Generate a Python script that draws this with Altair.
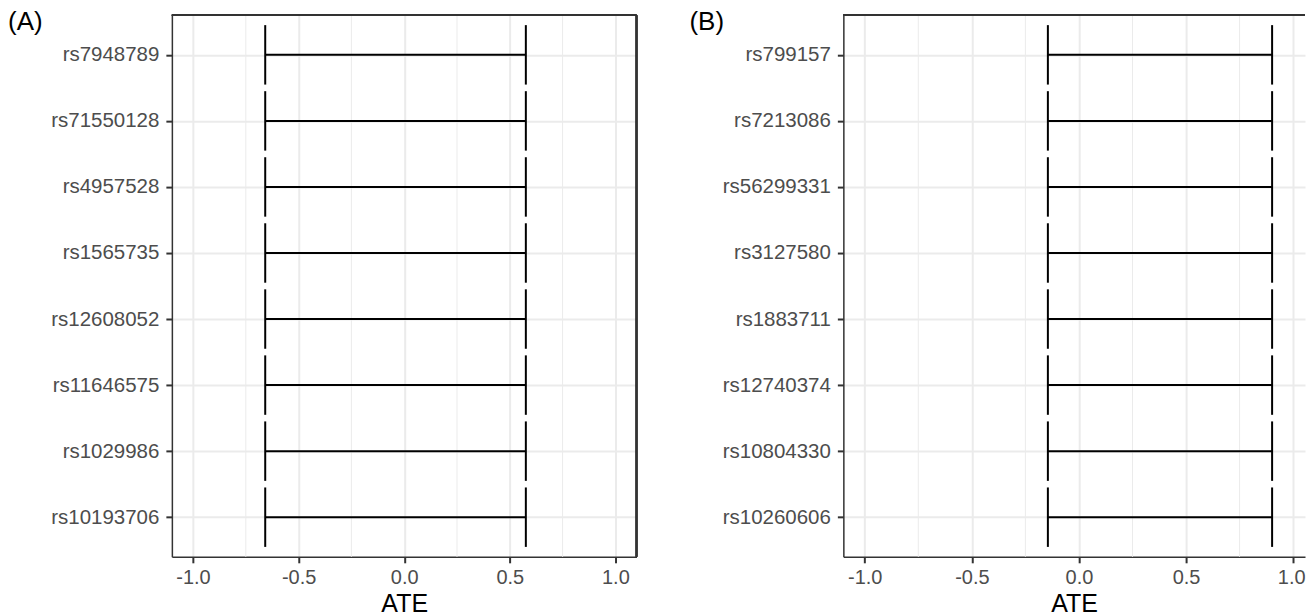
import altair as alt
import pandas as pd

# ---- data ----
snps_a = ["rs7948789", "rs71550128", "rs4957528", "rs1565735",
          "rs12608052", "rs11646575", "rs1029986", "rs10193706"]
lower_a = [-0.658, -0.658, -0.658, -0.658, -0.658, -0.658, -0.658, -0.658]
upper_a = [0.576, 0.576, 0.576, 0.576, 0.576, 0.576, 0.576, 0.576]

snps_b = ["rs799157", "rs7213086", "rs56299331", "rs3127580",
          "rs1883711", "rs12740374", "rs10804330", "rs10260606"]
lower_b = [-0.145, -0.145, -0.145, -0.145, -0.145, -0.145, -0.145, -0.145]
upper_b = [0.902, 0.902, 0.902, 0.902, 0.902, 0.902, 0.902, 0.902]

x_major = [-1.0, -0.5, 0.0, 0.5, 1.0]
x_minor = [-0.75, -0.25, 0.25, 0.75]

FONT = "Liberation Sans"
GRID = "#ebebeb"
DARK = "#333333"
H = 542


def panel(snps, lo, hi, tag, width, xmax, full_border, dx_tag, flush):
    n = len(snps)
    rows = list(range(1, n + 1))
    df = pd.DataFrame({"snp": snps, "row": rows, "lower": lo, "upper": hi})
    df["cap_lo"] = df["row"] - 0.45
    df["cap_hi"] = df["row"] + 0.45
    minor = pd.DataFrame({"v": x_minor})
    tagdf = pd.DataFrame({"tag": [tag]})

    names = ",".join("'" + s + "'" for s in snps)
    label_expr = "[" + names + "][datum.value - 1]"

    xscale = alt.Scale(domain=[-1.1, xmax], nice=False, zero=False)
    yscale = alt.Scale(domain=[0.4, n + 0.6], nice=False, zero=False, reverse=True)

    xaxis_kw = dict(
        values=x_major, grid=True, gridColor=GRID, gridWidth=2,
        domain=True, domainColor=DARK, domainWidth=1.5,
        ticks=True, tickColor=DARK, tickSize=6, tickWidth=2,
        labelFont=FONT, labelFontSize=20, labelColor="#4d4d4d", labelPadding=5,
        labelExpr="datum.value < 0 ? '-' + format(abs(datum.value), '.1f') : format(datum.value, '.1f')",
        title="ATE", titleFont=FONT, titleFontSize=25, titleFontWeight="normal",
        titleColor="black", titlePadding=4,
    )
    if flush:
        xaxis_kw.update(labelFlush=15, labelFlushOffset=12)
    else:
        xaxis_kw.update(labelFlush=False)
    xaxis = alt.Axis(**xaxis_kw)
    yaxis = alt.Axis(
        values=rows, grid=True, gridColor=GRID, gridWidth=2,
        domain=True, domainColor=DARK, domainWidth=1.5,
        ticks=True, tickColor=DARK, tickSize=6, tickWidth=2,
        labelFont=FONT, labelFontSize=20.5, labelColor="#4d4d4d", labelPadding=7,
        labelExpr=label_expr, title=None,
    )

    minor_rules = alt.Chart(minor).mark_rule(color=GRID, strokeWidth=1).encode(
        x=alt.X("v:Q", scale=xscale, axis=xaxis)
    )
    base = alt.Chart(df)
    hbar = base.mark_rule(color="black", strokeWidth=2).encode(
        x=alt.X("lower:Q", scale=xscale),
        x2="upper:Q",
        y=alt.Y("row:Q", scale=yscale, axis=yaxis),
    )
    cap_l = base.mark_rule(color="black", strokeWidth=2).encode(
        x=alt.X("lower:Q", scale=xscale),
        y=alt.Y("cap_lo:Q", scale=yscale),
        y2="cap_hi:Q",
    )
    cap_u = base.mark_rule(color="black", strokeWidth=2).encode(
        x=alt.X("upper:Q", scale=xscale),
        y=alt.Y("cap_lo:Q", scale=yscale),
        y2="cap_hi:Q",
    )
    tag_text = alt.Chart(tagdf).mark_text(
        font=FONT, fontSize=26, color="black", align="left", baseline="middle"
    ).encode(text="tag:N", x=alt.value(dx_tag), y=alt.value(7))
    layers = [minor_rules, hbar, cap_l, cap_u, tag_text]
    top = alt.Chart(df).mark_rule(color=DARK, strokeWidth=1.5).encode(
        x=alt.value(0), x2=alt.value(width), y=alt.value(0)
    )
    layers.append(top)
    if full_border:
        right = alt.Chart(df).mark_rule(color=DARK, strokeWidth=1.5).encode(
            x=alt.value(width), y=alt.value(0), y2=alt.value(H)
        )
        layers.append(right)

    return alt.layer(*layers).properties(width=width, height=H)


pa = panel(snps_a, lower_a, upper_a, "(A)", 465, 1.1, True, -164, False)
pb = panel(snps_b, lower_b, upper_b, "(B)", 462, 1.0556, False, -154, True)

chart = alt.hconcat(pa, pb, spacing=207, bounds="flush").properties(
    padding={"left": 8, "top": 9, "right": 0, "bottom": 0}
).configure_view(stroke=None).resolve_scale(x="independent", y="independent")

chart.save("out.html", embed_options={"renderer": "svg", "actions": False})
